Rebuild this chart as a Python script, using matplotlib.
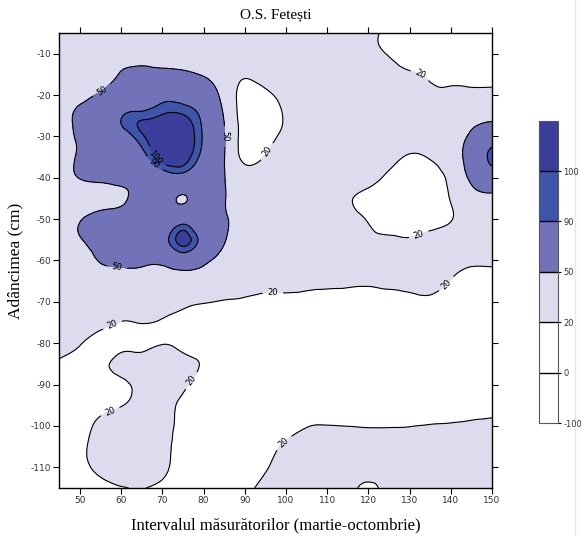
import numpy as np
import matplotlib.pyplot as plt
import matplotlib.tri as mtri
from matplotlib.lines import Line2D

plt.rcParams['axes.unicode_minus'] = False

# axe: intervalul de masurare si adancimea (cm)
interval = [45, 50, 55, 60, 65, 70, 75, 80, 85, 90, 95, 100,
            105, 110, 115, 120, 125, 130, 135, 140, 145, 150]
adancime = [-5, -10, -15, -20, -25, -30, -35, -40, -45, -50, -55, -60,
            -65, -70, -75, -80, -85, -90, -95, -100, -105, -110, -115]

# valori, cate un rand pentru fiecare adancime
r005 = [35, 35, 35, 35, 35, 35, 35, 35, 35, 35, 35, 35, 35, 35, 35, 25, 17, 12, 12, 12, 12, 12]
r010 = [35, 35, 35, 35, 35, 35, 35, 35, 35, 35, 35, 35, 35, 35, 35, 26, 19, 12, 10, 10, 10, 10]
r015 = [35, 35, 38, 52, 58, 58, 55, 48, 35, 23, 31, 35, 35, 35, 35, 35, 28, 23, 17, 15, 14, 14]
r020 = [35, 45, 52, 60, 68, 82, 80, 70, 40, 12, 15, 27, 35, 35, 35, 35, 35, 35, 25, 25, 25, 26]
r025 = [35, 53, 58, 88, 96, 101, 101, 85, 48, 10, 10, 22, 35, 35, 35, 35, 35, 35, 35, 35, 40, 45]
r030 = [35, 53, 60, 78, 98, 112, 112, 88, 52, 10, 12, 25, 35, 35, 35, 35, 35, 35, 35, 35, 55, 70]
r035 = [35, 53, 60, 66, 82, 108, 108, 84, 51, 14, 22, 35, 35, 35, 35, 35, 30, 17, 22, 35, 64, 98]
r040 = [35, 51, 56, 60, 64, 78, 80, 70, 51, 32, 35, 35, 35, 35, 35, 30, 15, 10, 12, 26, 55, 70]
r045 = [35, 36, 38, 44, 65, 65, 48, 65, 52, 35, 35, 35, 35, 35, 24, 12, 10, 10, 12, 21, 40, 45]
r050 = [35, 48, 62, 65, 66, 66, 78, 64, 53, 35, 35, 35, 35, 35, 30, 18, 10, 10, 12, 19, 30, 35]
r055 = [35, 48, 62, 65, 66, 80, 105, 80, 52, 35, 35, 35, 35, 35, 35, 26, 24, 22, 28, 30, 35, 35]
r060 = [35, 38, 52, 58, 58, 58, 72, 58, 41, 35, 35, 35, 35, 35, 35, 35, 35, 35, 35, 30, 26, 26]
r065 = [35, 35, 35, 35, 35, 35, 35, 35, 30, 30, 30, 30, 30, 27.5, 26, 25, 28, 30, 30, 19, 10, 10]
r070 = [35, 35, 35, 32, 32, 32, 24, 21, 19, 17, 13, 13, 10, 10, 10, 10, 10, 13, 15, 10, 10, 10]
r075 = [35, 35, 30, 19, 21, 17, 12, 10, 10, 10, 10, 10, 10, 10, 10, 10, 10, 10, 10, 10, 10, 10]
r080 = [30, 22, 8, 12, 14, 19, 14, 10, 10, 10, 10, 10, 10, 10, 10, 10, 10, 10, 10, 10, 10, 10]
r085 = [17, 10, 14, 26, 28, 30, 26, 18, 10, 10, 10, 10, 10, 10, 10, 10, 10, 10, 10, 10, 10, 10]
r090 = [12, 10, 10, 15, 26, 28, 24, 10, 10, 10, 10, 10, 10, 10, 10, 10, 10, 10, 10, 10, 10, 10]
r095 = [12, 12, 14, 19, 27, 27, 16, 10, 10, 10, 10, 10, 10, 10, 10, 10, 10, 10, 10, 10, 10, 10]
r100 = [12, 14, 24, 28, 28, 27, 14, 10, 10, 10, 10, 11.5, 19, 20.5, 19.8, 19, 19, 19.5, 21, 22, 24, 26]
r105 = [12, 16, 27, 28, 28, 26, 12, 10, 10, 10, 12, 24, 28, 28, 28, 28, 28, 28, 28, 28, 28, 28]
r110 = [12, 16, 24, 28, 28, 24, 12, 10, 10, 10, 18, 28, 28, 28, 28, 28, 28, 28, 28, 28, 28, 28]
r115 = [12, 12, 14, 19, 20.5, 16, 12, 10, 10, 14, 26, 28, 28, 28, 28, 15, 28, 28, 28, 28, 28, 28]

nivele = [-100, 0, 20, 50, 90, 100, 120]
culori = ['#ffffff', '#ffffff', '#dcdcee', '#7272b8', '#3e56a9', '#3b3e9b']
etichete_cb = [-100, 0, 20, 50, 90, 100]

valori = np.array([r005, r010, r015, r020, r025, r030, r035, r040, r045, r050, r055, r060,
                   r065, r070, r075, r080, r085, r090, r095, r100, r105, r110, r115], dtype=float)

# triangulare pe grila + netezire
X, Y = np.meshgrid(interval, adancime)
ny, nx = X.shape
tri_idx = []
for j in range(ny - 1):
    for i in range(nx - 1):
        a = j * nx + i
        tri_idx.append([a, a + 1, a + nx])
        tri_idx.append([a + 1, a + nx + 1, a + nx])
tri = mtri.Triangulation(X.ravel(), Y.ravel(), triangles=tri_idx)
refiner = mtri.UniformTriRefiner(tri)
tri_f, z_f = refiner.refine_field(valori.ravel(), subdiv=3)

fig = plt.figure(figsize=(5.81, 5.36), dpi=100)
ax = fig.add_axes([0.1022, 0.0896, 0.7446, 0.8489])

cf = ax.tricontourf(tri_f, z_f, levels=nivele, colors=culori)
cs = ax.tricontour(tri_f, z_f, levels=[0, 20, 50, 90, 100], colors='k', linewidths=0.8)

pozitii = [(55.6, -19.3), (84.5, -30), (59, -61.8), (69.4, -34.1), (67.5, -37.2),
           (96.1, -34.1), (132.5, -15.2), (132.5, -54.5), (96.8, -67.9), (139, -65.7),
           (58, -75.9), (57.3, -96.5), (77.9, -89.7), (99.2, -103.8)]
ax.clabel(cs, fmt='%d', fontsize=6, inline=True, manual=pozitii)

ax.set_xlim(45, 150)
ax.set_ylim(-115, -5)
ax.set_xticks(range(50, 151, 10))
ax.set_yticks(range(-110, -9, 10))
ax.tick_params(direction='out', top=True, right=True, labeltop=False, labelright=False,
               length=4, width=0.8, labelsize=6.5, labelcolor='#333333', pad=2)
for s in ax.spines.values():
    s.set_linewidth(1.0)

serif = 'Liberation Serif'
ax.text(0.5, 1.03, 'O.S. Fetești', transform=ax.transAxes, ha='center', va='baseline',
        fontsize=11, family=serif)
ax.set_xlabel('Intervalul măsurătorilor (martie-octombrie)', family=serif, fontsize=12)
ax.xaxis.set_label_coords(0.5, -0.064)
ax.set_ylabel('Adâncimea (cm)', family=serif, fontsize=12.5)
ax.yaxis.set_label_coords(-0.084, 0.5)

# bara de culori
cax = fig.add_axes([0.9282, 0.2108, 0.0327, 0.564])
cb = fig.colorbar(cf, cax=cax, ticks=etichete_cb)
cb.add_lines([0, 20, 50, 90, 100], ['k'] * 5, [1.0] * 5)
cb.outline.set_linewidth(0.8)
cb.outline.set_edgecolor('#555555')
cax.tick_params(length=2.5, width=0.8, labelsize=6, labelcolor='#333333', pad=1)

fig.add_artist(Line2D([0.99, 0.99], [0.0, 1.0], color='#e6e6e6', linewidth=1, zorder=-1))

plt.savefig('out.png', dpi=100)
plt.close()
